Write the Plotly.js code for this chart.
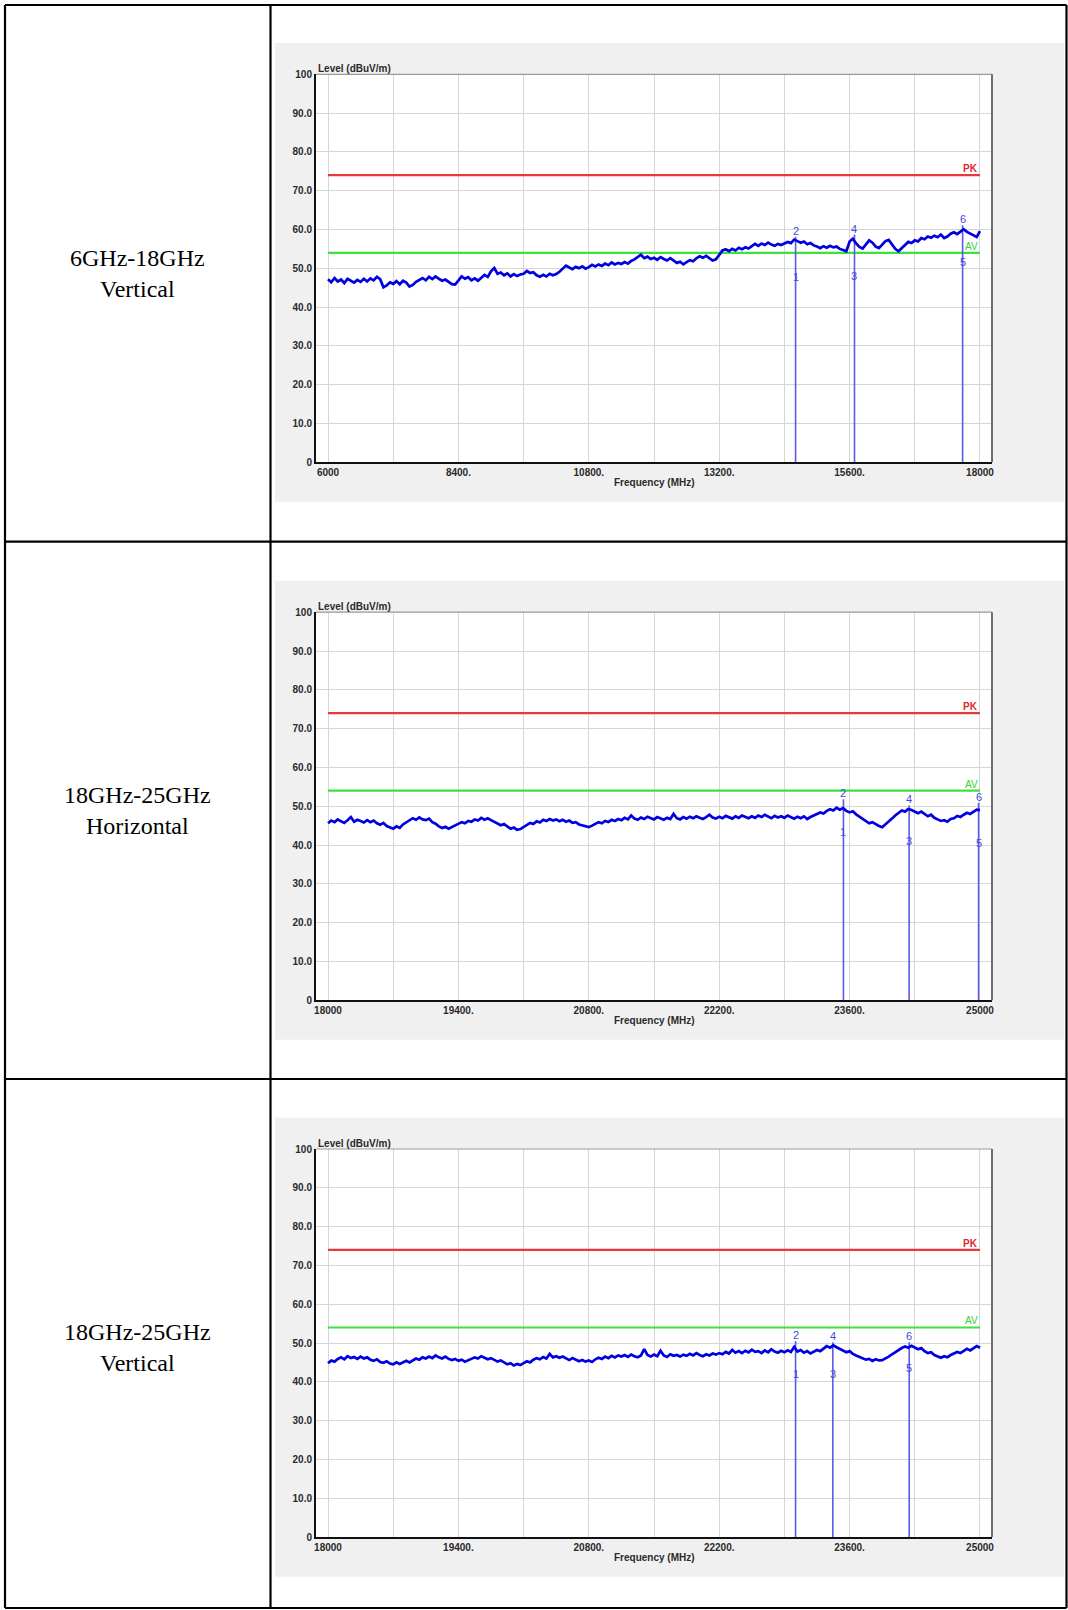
<!DOCTYPE html>
<html>
<head>
<meta charset="utf-8">
<script src="https://cdn.plot.ly/plotly-3.0.1.min.js"></script>
<style>
html,body{margin:0;padding:0;background:#fff;}
#chart{width:1068px;height:1610px;}
</style>
</head>
<body>
<div id="chart"></div>
<script>
// ---------------- DATA ----------------
const rowLabels = [["6GHz-18GHz","Vertical"],["18GHz-25GHz","Horizontal"],["18GHz-25GHz","Vertical"]];

const yTickVals = [0,10,20,30,40,50,60,70,80,90,100];
const yTickText = ["0","10.0","20.0","30.0","40.0","50.0","60.0","70.0","80.0","90.0","100"];

const xTickVals1 = [6000,7200,8400,9600,10800,12000,13200,14400,15600,16800,18000];
const xTickText1 = ["6000","","8400.","","10800.","","13200.","","15600.","","18000"];
const xTickVals2 = [18000,18700,19400,20100,20800,21500,22200,22900,23600,24300,25000];
const xTickText2 = ["18000","","19400.","","20800.","","22200.","","23600.","","25000"];

const pkLimit = 74;
const avLimit = 54;

// trace 1: 6000-18000 MHz, sampled every 60 MHz
const freqStart1 = 6000, freqStep1 = 60;
const level1 = [
47.2,46.4,47.5,46.6,47.1,46.2,47.3,46.8,46.3,47.0,
46.5,47.3,46.6,47.4,46.9,47.8,47.2,45.1,45.6,46.4,
46.0,46.7,45.9,46.8,46.3,45.3,45.7,46.5,47.1,47.5,
46.9,47.8,47.2,47.9,47.3,46.8,47.1,46.4,45.9,45.8,
46.8,47.9,47.3,47.7,46.9,47.4,46.8,47.6,48.3,47.8,
49.2,50.1,48.6,48.9,48.2,48.7,47.9,48.5,48.0,48.4,
48.6,49.3,48.8,49.0,48.2,47.8,48.3,47.9,48.6,48.2,
48.5,49.1,49.8,50.7,50.2,49.8,50.4,50.0,50.5,49.9,
50.3,50.9,50.5,51.0,50.6,51.2,50.8,51.5,51.0,51.4,
51.1,51.6,51.2,51.9,52.3,52.8,53.5,52.6,53.0,52.4,
52.7,52.2,52.9,52.4,52.0,52.6,51.9,51.4,51.7,51.0,
51.6,52.1,51.8,52.6,53.1,52.7,53.2,52.5,52.0,52.3,
53.4,54.6,54.9,54.4,55.0,54.6,55.3,54.9,55.4,55.1,
55.7,56.3,55.8,56.4,56.0,56.6,56.1,55.8,56.3,56.0,
56.4,56.8,56.5,57.4,57.0,56.6,56.9,56.2,56.5,55.9,
55.6,55.2,55.7,55.3,55.8,55.4,55.6,55.0,54.7,54.4,
56.9,57.6,56.4,55.5,55.1,56.2,57.2,56.6,55.6,55.2,
56.0,57.0,57.3,56.1,55.0,54.4,55.2,56.0,56.8,56.5,
57.2,56.9,57.8,57.5,58.2,57.9,58.4,58.0,58.7,57.8,
58.2,58.9,59.3,58.8,59.5,60.1,59.4,59.0,58.4,58.1,
59.6];

// trace 2: 18000-25000 MHz horizontal, sampled every 35 MHz
const freqStart2 = 18000, freqStep2 = 35;
const level2 = [
45.6,46.3,45.9,46.6,46.1,45.7,46.4,47.2,46.0,46.5,
46.2,45.8,46.4,45.9,46.3,45.6,45.2,45.7,44.9,44.6,
44.2,44.8,44.4,45.3,45.8,46.3,46.9,46.5,47.1,46.6,
46.4,46.8,45.9,45.5,44.8,44.4,44.7,44.2,44.6,45.0,
45.4,45.9,45.6,46.2,46.0,46.6,46.3,47.0,46.5,46.9,
46.4,46.0,45.6,45.1,45.4,44.7,44.2,44.5,43.9,44.1,
44.6,45.2,45.7,45.4,46.1,45.8,46.5,46.2,46.7,46.3,
46.6,46.1,46.5,46.0,46.3,45.7,45.9,45.3,45.0,44.8,
44.6,45.0,45.5,45.9,45.6,46.2,45.9,46.5,46.2,46.7,
46.4,47.0,46.6,47.6,46.8,46.5,47.1,46.7,47.3,46.9,
46.6,47.2,46.8,46.5,47.0,46.7,48.0,46.9,46.6,47.2,
46.8,47.3,46.9,47.4,47.0,46.7,47.2,47.8,47.1,46.8,
47.3,46.9,47.5,47.1,46.8,47.4,47.0,47.6,47.2,46.9,
47.4,47.0,47.6,47.2,47.8,47.3,46.9,47.5,47.1,47.4,
47.0,47.6,47.2,46.8,47.3,46.9,47.4,46.7,47.2,47.6,
47.9,48.4,48.1,48.8,49.2,48.9,49.6,49.1,49.5,48.8,
48.4,48.7,47.9,47.3,46.8,46.2,45.6,45.9,45.3,44.9,
44.6,45.3,45.9,46.8,47.6,48.3,48.9,48.6,49.3,49.0,
48.7,48.2,48.6,47.9,47.4,47.8,47.0,46.6,46.2,46.4,
46.0,46.7,46.9,47.5,47.2,47.8,48.3,48.0,48.6,49.1,
49.0];

// trace 3: 18000-25000 MHz vertical, sampled every 35 MHz
const freqStart3 = 18000, freqStep3 = 35;
const level3 = [
44.8,45.5,45.2,45.9,46.3,45.8,46.6,46.1,46.4,45.9,
46.5,46.0,46.3,45.7,45.4,45.8,45.1,44.9,45.3,44.7,
44.5,45.0,44.6,44.9,45.4,45.0,45.6,46.0,45.7,46.3,
46.0,46.5,46.1,46.8,46.3,46.0,46.5,45.9,45.6,45.9,
45.4,45.7,45.2,45.6,45.9,46.3,46.0,46.6,46.2,45.8,
46.1,45.6,45.2,45.5,44.9,44.5,44.8,44.2,44.6,44.3,
44.8,45.3,45.0,45.7,46.1,45.8,46.4,46.0,47.2,46.3,
46.6,46.2,46.5,46.0,45.6,46.1,45.7,45.3,45.6,45.2,
45.5,45.1,45.8,46.2,45.9,46.5,46.1,46.7,46.3,46.8,
46.5,46.9,46.4,47.0,46.6,46.3,46.8,48.4,46.9,46.5,
47.0,46.6,48.0,46.8,46.4,47.1,46.7,46.9,46.5,47.0,
46.7,47.2,46.8,47.4,46.9,46.6,47.1,46.8,47.3,47.0,
47.4,47.1,47.7,47.3,48.2,47.5,47.9,47.4,48.0,47.6,
48.3,47.7,47.9,47.4,48.1,47.6,48.4,47.8,47.5,48.0,
47.6,48.1,47.7,49.0,47.8,48.2,47.5,47.9,47.3,47.8,
48.2,47.9,48.6,49.2,48.8,49.4,48.9,48.5,48.1,47.6,
47.9,47.2,46.8,46.4,46.1,45.7,45.9,45.4,45.8,45.5,
45.6,46.0,46.5,47.1,47.7,48.2,48.7,49.1,48.8,49.3,
48.9,48.4,48.7,47.9,47.4,47.6,46.9,46.5,46.2,46.6,
46.3,46.9,47.2,47.7,47.4,48.0,48.5,48.1,48.7,49.2,
48.8];

// marker readings (freq MHz, peak level, average level)
const markerFreq1 = [14606, 15690, 17680];
const markerPeak1 = [58.1, 58.7, 61.1];
const markerAvg1  = [47.8, 48.0, 51.5];
const markerFreq2 = [23534, 24239, 24985];
const markerPeak2 = [51.8, 50.2, 50.9];
const markerAvg2  = [43.3, 41.0, 40.4];
const markerFreq3 = [23020, 23420, 24240];
const markerPeak3 = [50.5, 50.2, 50.2];
const markerAvg3  = [42.0, 42.0, 43.5];

// ---------------- LAYOUT ----------------
const W = 1068, H = 1610;
const px = v => v / W;
const py = v => 1 - v / H;

const panels = [
  {greyTop: 43,    plotTop: 74.3, xr: [5779, 18221], tv: xTickVals1, tt: xTickText1,
   fs: freqStart1, st: freqStep1, lv: level1, mf: markerFreq1, mp: markerPeak1, ma: markerAvg1},
  {greyTop: 580.7, plotTop: 612.2, xr: [17871, 25129], tv: xTickVals2, tt: xTickText2,
   fs: freqStart2, st: freqStep2, lv: level2, mf: markerFreq2, mp: markerPeak2, ma: markerAvg2},
  {greyTop: 1117.7, plotTop: 1149, xr: [17871, 25129], tv: xTickVals2, tt: xTickText2,
   fs: freqStart3, st: freqStep3, lv: level3, mf: markerFreq3, mp: markerPeak3, ma: markerAvg3}
];
const plotLeft = 316, plotRight = 992, plotH = 388;
const rowLines = [5, 541.7, 1079, 1608];
const tblLeft = 5, tblRight = 1066.5, colDiv = 270.5;

const axisFont = {family: "Liberation Sans, Arial, sans-serif", size: 10, color: "#2a2a2a", weight: "bold"};
const traces = [];
const shapes = [];
const annotations = [];
const layout = {
  width: W, height: H,
  margin: {l: 0, r: 0, t: 0, b: 0, pad: 0},
  paper_bgcolor: "#ffffff",
  plot_bgcolor: "rgba(0,0,0,0)",
  showlegend: false,
  shapes: shapes,
  annotations: annotations
};

panels.forEach((p, i) => {
  const n = i === 0 ? "" : String(i + 1);
  const xa = "x" + n, ya = "y" + n;
  const plotBottom = p.plotTop + plotH;
  shapes.push({type: "rect", xref: "paper", yref: "paper", layer: "below",
    x0: px(275), x1: px(1064), y0: py(p.greyTop + 459), y1: py(p.greyTop),
    fillcolor: "#f0f0f0", line: {width: 0}});
  shapes.push({type: "rect", xref: "paper", yref: "paper", layer: "below",
    x0: px(plotLeft), x1: px(plotRight), y0: py(plotBottom), y1: py(p.plotTop),
    fillcolor: "#ffffff", line: {width: 0}});
  shapes.push({type: "line", xref: xa + " domain", yref: ya + " domain", x0: 0, x1: 1, y0: 1, y1: 1,
    line: {color: "#9a9a9a", width: 1.2}});
  shapes.push({type: "line", xref: xa + " domain", yref: ya + " domain", x0: 1, x1: 1, y0: 0, y1: 1,
    line: {color: "#6e6e6e", width: 2}});

  layout["xaxis" + n] = {
    domain: [px(plotLeft), px(plotRight)], range: p.xr, anchor: ya,
    tickmode: "array", tickvals: p.tv, ticktext: p.tt, ticks: "",
    showgrid: true, gridcolor: "#d6d6d6", gridwidth: 1, zeroline: false,
    showline: true, linecolor: "#111111", linewidth: 2,
    tickfont: axisFont, fixedrange: true
  };
  layout["yaxis" + n] = {
    domain: [py(plotBottom), py(p.plotTop)], range: [0, 100], anchor: xa,
    tickmode: "array", tickvals: yTickVals, ticktext: yTickText, ticks: "",
    showgrid: true, gridcolor: "#d6d6d6", gridwidth: 1, zeroline: false,
    showline: true, linecolor: "#111111", linewidth: 2,
    tickfont: axisFont, fixedrange: true
  };

  const freqs = p.lv.map((v, k) => p.fs + k * p.st);
  const fMin = freqs[0], fMax = freqs[freqs.length - 1];

  traces.push({x: [fMin, fMax], y: [pkLimit, pkLimit], xaxis: xa, yaxis: ya, mode: "lines",
    line: {color: "#e8383a", width: 2.2}, hoverinfo: "skip"});
  traces.push({x: [fMin, fMax], y: [avLimit, avLimit], xaxis: xa, yaxis: ya, mode: "lines",
    line: {color: "#3ee03e", width: 2.2}, hoverinfo: "skip"});

  const mx = [], my = [];
  p.mf.forEach((f, k) => { mx.push(f, f, null); my.push(0, p.mp[k], null); });
  traces.push({x: mx, y: my, xaxis: xa, yaxis: ya, mode: "lines",
    line: {color: "#5a5ae6", width: 1.6}, hoverinfo: "skip", connectgaps: false});

  traces.push({x: freqs, y: p.lv, xaxis: xa, yaxis: ya, mode: "lines",
    line: {color: "#0000e0", width: 2.7}, hoverinfo: "skip"});

  annotations.push({xref: xa, yref: ya, x: fMax, y: pkLimit, text: "PK", showarrow: false,
    xanchor: "right", yanchor: "bottom", yshift: -1,
    font: {family: "Liberation Sans, Arial, sans-serif", size: 10, color: "#e02828", weight: "bold"}});
  annotations.push({xref: xa, yref: ya, x: fMax, y: avLimit, text: "AV", showarrow: false,
    xanchor: "right", yanchor: "bottom", yshift: -1,
    font: {family: "Liberation Sans, Arial, sans-serif", size: 10, color: "#34d034"}});
  p.mf.forEach((f, k) => {
    annotations.push({xref: xa, yref: ya, x: f, y: p.mp[k], text: String(2 * k + 2), showarrow: false,
      xanchor: "center", yanchor: "bottom", yshift: -2,
      font: {family: "Liberation Sans, Arial, sans-serif", size: 11, color: "#4848d8"}});
    annotations.push({xref: xa, yref: ya, x: f, y: p.ma[k], text: String(2 * k + 1), showarrow: false,
      xanchor: "center", yanchor: "middle",
      font: {family: "Liberation Sans, Arial, sans-serif", size: 11, color: "#4848d8"}});
  });
  annotations.push({xref: "paper", yref: "paper", x: px(plotLeft), y: py(p.plotTop - 6),
    text: "Level (dBuV/m)", showarrow: false, xanchor: "left", yanchor: "middle", font: axisFont});
  annotations.push({xref: "paper", yref: "paper", x: px((plotLeft + plotRight) / 2), y: py(plotBottom + 20.5),
    text: "Frequency (MHz)", showarrow: false, xanchor: "center", yanchor: "middle", font: axisFont});

  const rowMid = (rowLines[i] + (i === 2 ? 1616 : rowLines[i + 1])) / 2;
  annotations.push({xref: "paper", yref: "paper", x: px((tblLeft + colDiv) / 2), y: py(rowMid),
    text: rowLabels[i][0] + "<br>" + rowLabels[i][1], showarrow: false,
    xanchor: "center", yanchor: "middle", align: "center",
    font: {family: "Liberation Serif, Times New Roman, serif", size: 24, color: "#000000"}});
});

const tl = {color: "#000000", width: 2.2};
rowLines.forEach(yv => shapes.push({type: "line", xref: "paper", yref: "paper", layer: "above",
  x0: px(tblLeft), x1: px(tblRight), y0: py(yv), y1: py(yv), line: tl}));
[tblLeft, colDiv, tblRight].forEach(xv => shapes.push({type: "line", xref: "paper", yref: "paper", layer: "above",
  x0: px(xv), x1: px(xv), y0: py(rowLines[0]), y1: py(rowLines[3]), line: tl}));

Plotly.newPlot("chart", traces, layout, {displayModeBar: false, staticPlot: true});
</script>
</body>
</html>
